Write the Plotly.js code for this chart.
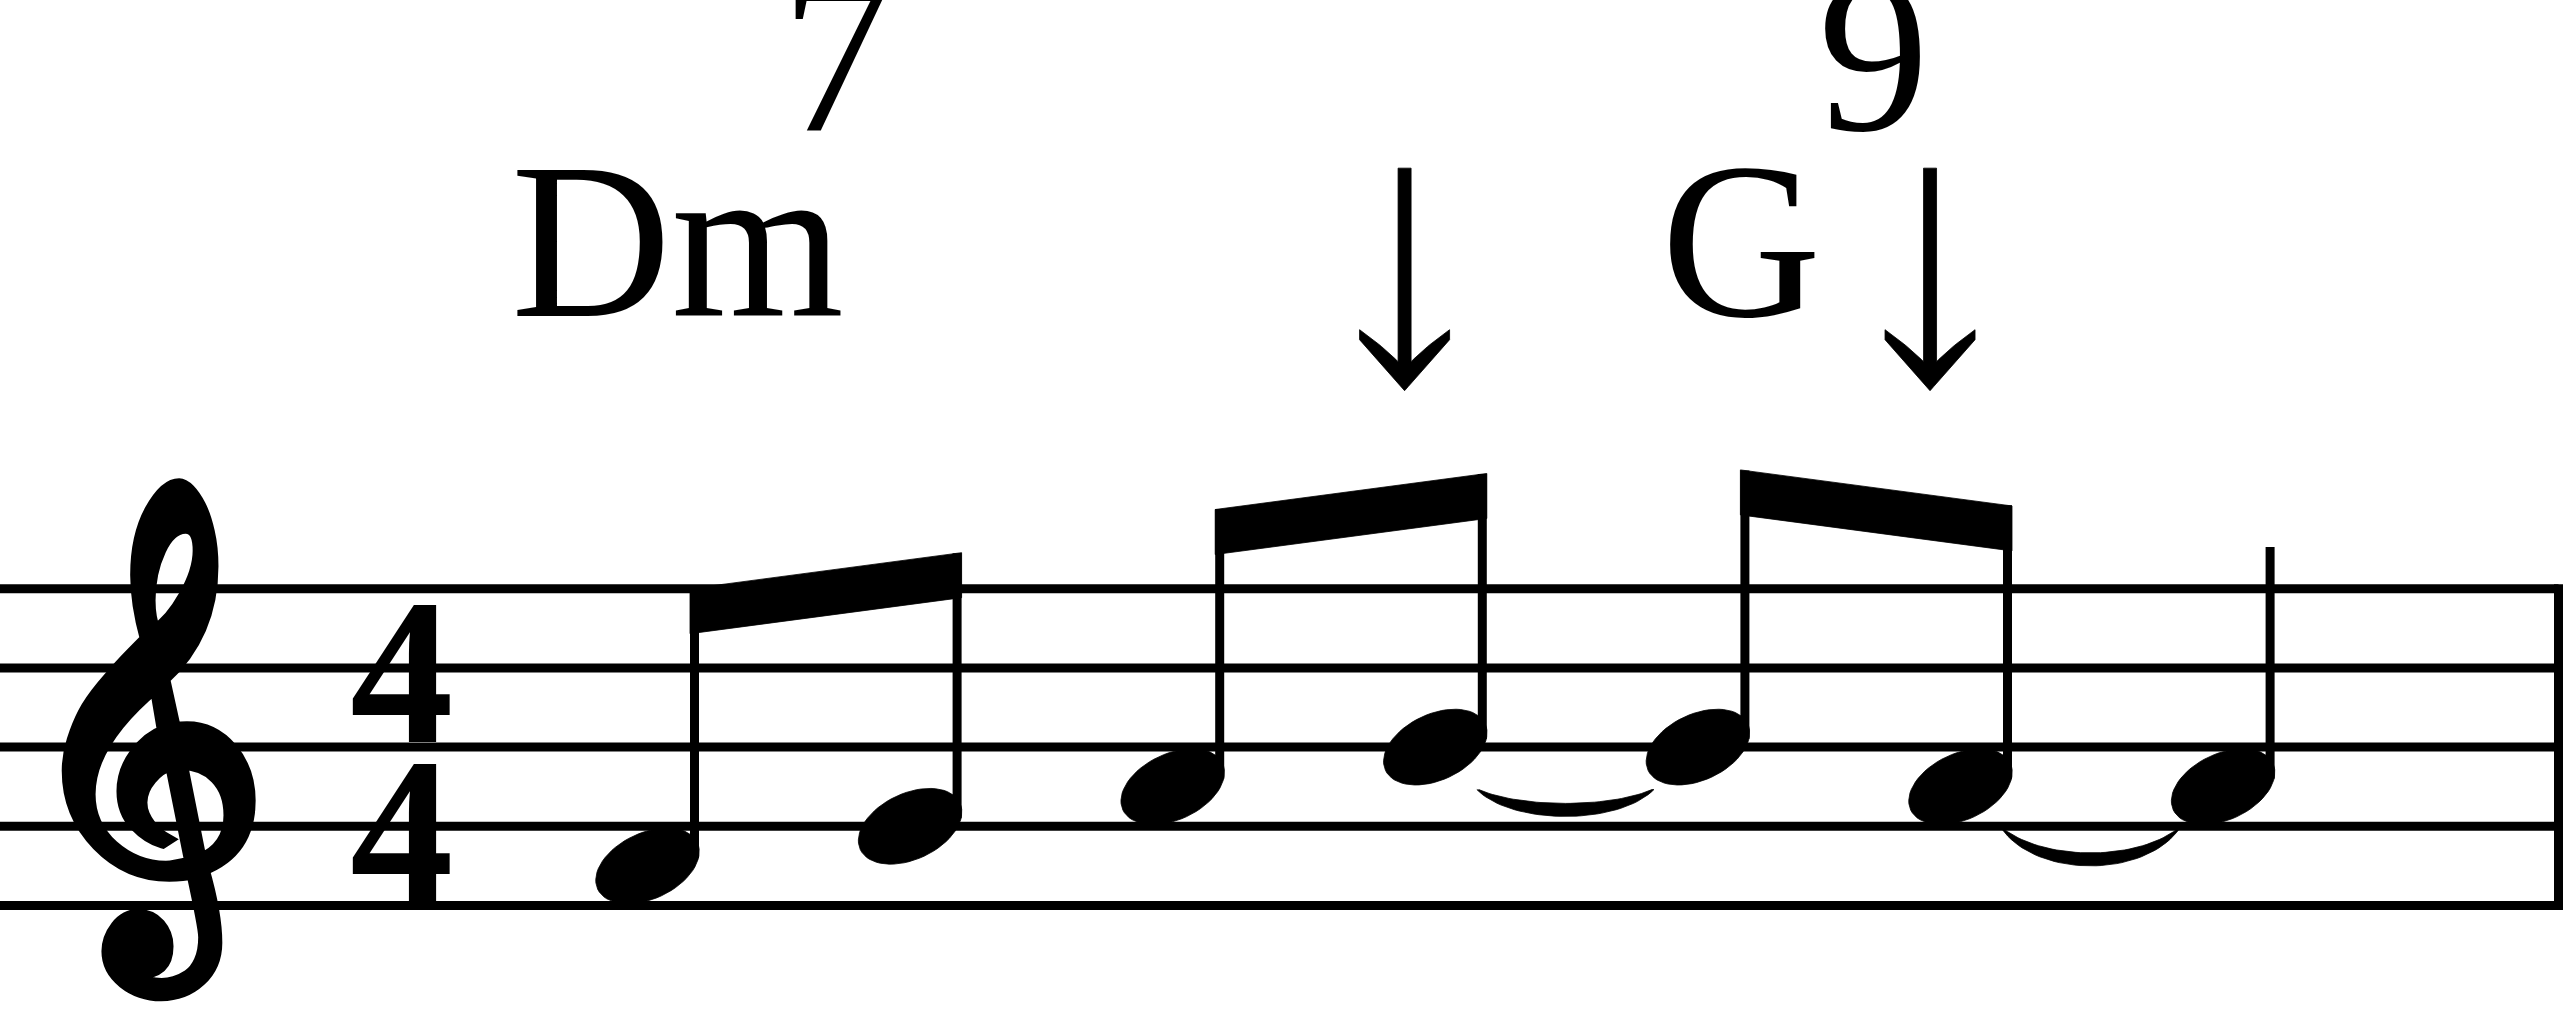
<!DOCTYPE html>
<html>
<head>
<meta charset="utf-8">
<script src="https://cdn.plot.ly/plotly-3.0.1.min.js"></script>
<style>
  body { margin: 0; background: #fff; }
  #plot { width: 2563px; height: 1030px; }
</style>
</head>
<body>
<div id="plot"></div>
<script>
// the tune: one bar of 4/4, times in eighth notes
const onsets = [0, 1, 2, 3, 4, 5, 6];
const pitches = ['F4', 'G4', 'A4', 'B4', 'B4', 'A4', 'A4'];
const durations = [1, 1, 1, 1, 1, 1, 2];
const beamGroups = [[0, 1], [2, 3], [4, 5]];
const ties = [[3, 4], [5, 6]];

// chord symbols above the staff
const chordRoots = ['Dm', 'G'];
const chordExts = ['7', '9'];
const chordAt = [-0.529, 3.85];
const chordExtAt = [0.499, 4.45];
const arrowAt = [2.883, 4.884];
const timeSig = ['4', '4'];

// page geometry (px)
const W = 2563, H = 1030;
const X0PX = 647.5, XS = 262.6;   // px per eighth
const Y0PX = 905.5, YS = 39.6;    // px per staff step (half a space)
const ux = px => px / XS;
const uy = px => px / YS;
const xmin = -X0PX / XS, xmax = (W - X0PX) / XS;
const ymin = (Y0PX - H) / YS, ymax = Y0PX / YS;

function step(p) {
  const idx = 'CDEFGAB'.indexOf(p[0]);
  const oct = parseInt(p.slice(1));
  return oct * 7 + idx - (4 * 7 + 2);   // E4 = bottom line = 0
}
const steps = pitches.map(step);

let traces = [];
function addLine(xs, ys, width) {
  traces.push({x: xs, y: ys, mode: 'lines', type: 'scatter', hoverinfo: 'skip',
    showlegend: false, line: {color: '#000', width: width}});
}
function addFill(xs, ys) {
  traces.push({x: xs, y: ys, mode: 'lines', type: 'scatter', hoverinfo: 'skip',
    showlegend: false, fill: 'toself', fillcolor: '#000', line: {color: '#000', width: 0.8}});
}

// staff + final barline
let sx = [], sy = [];
for (let l = 0; l < 5; l++) {
  sx.push(xmin, xmax - ux(4.5), null);
  sy.push(l * 2, l * 2, null);
}
addLine(sx, sy, 9);
addLine([xmax - ux(4.5), xmax - ux(4.5)], [-uy(4.5), 8 + uy(4.5)], 9);

// noteheads
let hx = [], hy = [];
const a = 55, b = 33, th = 25 * Math.PI / 180;
onsets.forEach((o, i) => {
  for (let k = 0; k <= 64; k++) {
    const t = 2 * Math.PI * k / 64;
    const dx = a * Math.cos(t) * Math.cos(th) - b * Math.sin(t) * Math.sin(th);
    const dy = a * Math.cos(t) * Math.sin(th) + b * Math.sin(t) * Math.cos(th);
    hx.push(o + ux(dx));
    hy.push(steps[i] + uy(dy));
  }
  hx.push(null); hy.push(null);
});
addFill(hx, hy);

// beams and stems
let bx = [], by = [], stx = [], sty = [];
const stemTop = onsets.map((o, i) => steps[i] + 6.05);
beamGroups.forEach(g => {
  const i0 = g[0], i1 = g[g.length - 1];
  const yl = steps[i0] + 7;
  const yr = steps[i0] + 7 + 0.91 * (steps[i1] - steps[i0]);
  const xl = onsets[i0] + ux(42.5), xr = onsets[i1] + ux(51.5);
  const thick = uy(45);
  bx.push(xl, xr, xr, xl, xl, null);
  by.push(yl, yr, yr - thick, yl - thick, yl, null);
  g.forEach(i => {
    const sxp = onsets[i] + ux(47);
    stemTop[i] = yl + (yr - yl) * (sxp - xl) / (xr - xl);
  });
});
addFill(bx, by);
onsets.forEach((o, i) => {
  stx.push(o + ux(47), o + ux(47), null);
  sty.push(steps[i] + uy(8), stemTop[i], null);
});
addLine(stx, sty, 9);

// ties below the noteheads
let tx = [], ty = [];
function bez(p0, p1, p2, p3, t) {
  const u = 1 - t;
  return u * u * u * p0 + 3 * u * u * t * p1 + 3 * u * t * t * p2 + t * t * t * p3;
}
ties.forEach(pair => {
  const [i0, i1] = pair;
  const xs = onsets[i0] + ux(41.5), xe = onsets[i1] - ux(44);
  const e = steps[i0] - uy(42.5);
  const a0 = e - 0.7;
  let cands = [];
  for (let n = -2; n <= 10; n++) {
    if (n % 2 !== 0) cands.push(n); else cands.push(n + 0.25, n - 0.25);
  }
  let apex = cands.reduce((best, c) => Math.abs(c - a0) < Math.abs(best - a0) ? c : best, cands[0]);
  const dOut = e - apex, dIn = dOut - uy(13);
  const w = xe - xs;
  const N = 40;
  for (let k = 0; k <= N; k++) {
    const t = k / N;
    tx.push(bez(xs, xs + 0.2 * w, xe - 0.2 * w, xe, t));
    ty.push(bez(e, e - 4 / 3 * dOut, e - 4 / 3 * dOut, e, t));
  }
  for (let k = N; k >= 0; k--) {
    const t = k / N;
    tx.push(bez(xs + ux(2), xs + 0.25 * w, xe - 0.25 * w, xe - ux(2), t));
    ty.push(bez(e, e - 4 / 3 * dIn, e - 4 / 3 * dIn, e, t));
  }
  tx.push(null); ty.push(null);
});
addFill(tx, ty);

// down arrows
let ax = [], ay = [];
const tipStep = 13.0, topStep = 18.62;
function q(p0, p1, p2, t) { const u = 1 - t; return u * u * p0 + 2 * u * t * p1 + t * t * p2; }
arrowAt.forEach(x0 => {
  let pts = [];
  const hs = 6.5, topPx = (topStep - tipStep) * YS;
  pts.push([-hs, topPx], [-hs, 29]);
  for (let k = 1; k <= 12; k++) { const t = k / 12; pts.push([q(-hs, -20, -45, t), q(29, 43, 61, t)]); }
  pts.push([-45, 51]);
  for (let k = 1; k <= 12; k++) { const t = k / 12; pts.push([q(-45, -22, 0, t), q(51, 25, 0, t)]); }
  for (let k = 1; k <= 12; k++) { const t = k / 12; pts.push([q(0, 22, 45, t), q(0, 25, 51, t)]); }
  pts.push([45, 61]);
  for (let k = 1; k <= 12; k++) { const t = k / 12; pts.push([q(45, 20, hs, t), q(61, 43, 29, t)]); }
  pts.push([hs, topPx], [-hs, topPx]);
  pts.forEach(p => { ax.push(x0 + ux(p[0])); ay.push(tipStep + uy(p[1])); });
  ax.push(null); ay.push(null);
});
addFill(ax, ay);

// text: clef, time signature, chord names
const serif = 'Liberation Serif, Times New Roman, serif';
const chordSize = 222;
const mid = (baseStep, size) => baseStep + 0.3375 * size / YS;
let ann = [];
ann.push({x: ux(143 - X0PX), y: uy(Y0PX - 738), text: '\u{1D11E}', showarrow: false,
  xanchor: 'center', yanchor: 'middle',
  font: {family: 'DejaVu Sans, Noto Sans, serif', size: 428, weight: 'bold', color: '#000'}});
const tsSize = 207;
timeSig.forEach((d, k) => {
  ann.push({x: -0.935, y: mid(k === 0 ? 4.11 : 0.11, tsSize), text: '<b>' + d + '</b>', showarrow: false,
    xanchor: 'center', yanchor: 'middle', font: {family: serif, size: tsSize, color: '#000'}});
});
chordRoots.forEach((c, k) => {
  ann.push({x: chordAt[k], y: mid(14.886, chordSize), text: c, showarrow: false,
    xanchor: 'left', yanchor: 'middle', font: {family: serif, size: chordSize, color: '#000'}});
  ann.push({x: chordExtAt[k], y: mid(19.58, chordSize), text: chordExts[k], showarrow: false,
    xanchor: 'left', yanchor: 'middle', font: {family: serif, size: chordSize, color: '#000'}});
});

const layout = {
  width: W, height: H,
  margin: {l: 0, r: 0, t: 0, b: 0, pad: 0},
  paper_bgcolor: '#fff', plot_bgcolor: '#fff',
  showlegend: false,
  xaxis: {range: [xmin, xmax], visible: false, fixedrange: true},
  yaxis: {range: [ymin, ymax], visible: false, fixedrange: true},
  annotations: ann
};
Plotly.newPlot('plot', traces, layout, {staticPlot: true, displayModeBar: false});
</script>
</body>
</html>
